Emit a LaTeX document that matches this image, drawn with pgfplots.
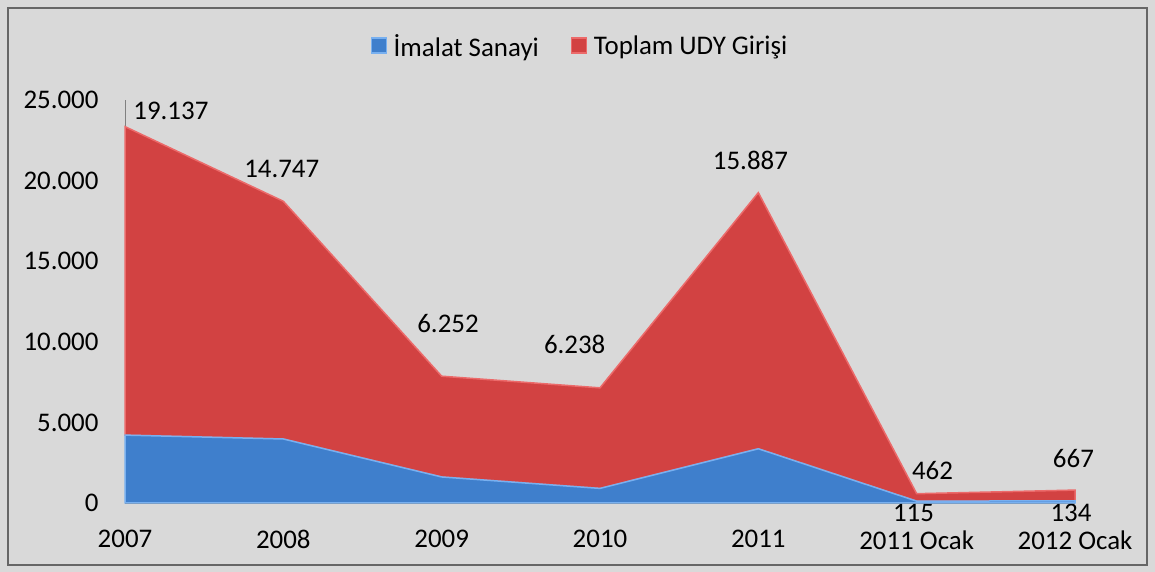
\documentclass[border=0pt]{standalone}
\usepackage{pgfplots}
\pgfplotsset{compat=1.18}
\usepackage{fontspec}
\setmainfont{Carlito}
\definecolor{bg}{HTML}{D9D9D9}
\definecolor{redA}{HTML}{D24242}
\definecolor{redL}{HTML}{EC6A6A}
\definecolor{blueA}{HTML}{3F7FCC}
\definecolor{blueL}{HTML}{78B0F0}
\begin{document}
\begin{tikzpicture}[x=1bp,y=1bp]
\fill[bg] (0,0) rectangle (1155,572);
\draw[gray!80!black, line width=1.2bp] (8,7) rectangle (1147,564);
\begin{axis}[
  at={(125bp,69bp)}, anchor=south west,
  scale only axis, width=950bp, height=403bp,
  xmin=0, xmax=6, ymin=0, ymax=25000,
  clip=false,
  stack plots=y,
  axis lines=left,
  axis line style={-, gray, line width=0.8bp},
  xtick={0,...,6},
  xticklabels={2007,2008,2009,2010,2011,2011 Ocak,2012 Ocak},
  ytick={0,5000,...,25000},
  scaled y ticks=false,
  major tick length=0pt,
  /pgf/number format/1000 sep={.},
  /pgf/number format/assume math mode=true,
  tick label style={font=\fontsize{27}{30}\selectfont},
  yticklabel style={xshift=-23bp},
  xticklabel style={yshift=-24bp},
  legend style={at={(0.479,1.134)}, anchor=center, draw=none, fill=none,
    font=\fontsize{27}{30}\selectfont, legend columns=2,
    /tikz/every even column/.append style={column sep=30bp}},
  legend image code/.code={\fill[#1] (0bp,-7bp) rectangle (15bp,8bp);},
]
\addplot[fill=blueA, draw=blueL, line width=1.5bp] coordinates {
 (0,4211) (1,3970) (2,1615) (3,905) (4,3364) (5,115) (6,134)} \closedcycle;
\addlegendentry{\,İmalat Sanayi}
\addplot[fill=redA, draw=redL, line width=1.5bp] coordinates {
 (0,19137) (1,14747) (2,6252) (3,6238) (4,15887) (5,462) (6,667)} \closedcycle;
\addlegendentry{\,Toplam UDY Girişi}
\node[font=\fontsize{27}{30}\selectfont] at (axis cs:0.29,24316) {19.137};
\node[font=\fontsize{27}{30}\selectfont] at (axis cs:0.99,20718) {14.747};
\node[font=\fontsize{27}{30}\selectfont] at (axis cs:2.04,11103) {6.252};
\node[font=\fontsize{27}{30}\selectfont] at (axis cs:2.84,9863) {6.238};
\node[font=\fontsize{27}{30}\selectfont] at (axis cs:3.95,21276) {15.887};
\node[font=\fontsize{27}{30}\selectfont] at (axis cs:5.10,1985) {462};
\node[font=\fontsize{27}{30}\selectfont] at (axis cs:5.99,2729) {667};
\node[font=\fontsize{27}{30}\selectfont] at (axis cs:0.27,6699) {4.211};
\node[font=\fontsize{27}{30}\selectfont] at (axis cs:1.21,5893) {3.970};
\node[font=\fontsize{27}{30}\selectfont] at (axis cs:1.93,3226) {1.615};
\node[font=\fontsize{27}{30}\selectfont] at (axis cs:3.02,2729) {905};
\node[font=\fontsize{27}{30}\selectfont] at (axis cs:3.99,5459) {3.364};
\node[font=\fontsize{27}{30}\selectfont] at (axis cs:4.98,-620) {115};
\node[font=\fontsize{27}{30}\selectfont] at (axis cs:5.975,-620) {134};
\end{axis}
\end{tikzpicture}
\end{document}
